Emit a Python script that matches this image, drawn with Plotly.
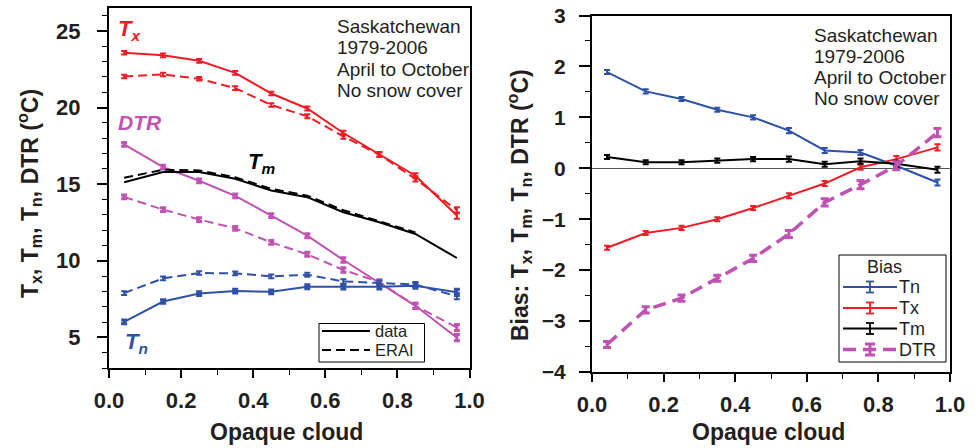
import plotly.graph_objects as go

# ---------------- data ----------------
x_cloud = [0.042, 0.15, 0.25, 0.35, 0.45, 0.55, 0.65, 0.75, 0.85, 0.965]

tx_data = [23.58, 23.41, 23.05, 22.27, 20.92, 19.94, 18.34, 16.95, 15.55, 12.95]
tx_erai = [22.03, 22.16, 21.88, 21.27, 20.17, 19.43, 18.12, 16.92, 15.35, 13.30]
tm_data = [15.13, 15.79, 15.79, 15.35, 14.59, 14.15, 13.17, 12.51, 11.75, 10.18]
tm_erai = [15.42, 15.94, 15.90, 15.45, 14.70, 14.25, 13.30, 12.60, 11.85, None]
tn_data = [6.01, 7.34, 7.86, 8.02, 7.97, 8.30, 8.30, 8.30, 8.37, 7.94]
tn_erai = [7.89, 8.85, 9.20, 9.18, 8.98, 9.09, 8.65, 8.56, 8.45, 7.68]
dtr_data = [17.60, 16.11, 15.22, 14.24, 12.95, 11.64, 10.05, 8.56, 7.06, 4.98]
dtr_erai = [14.17, 13.34, 12.69, 12.12, 11.20, 10.42, 9.40, 8.61, 7.06, 5.64]
err_left = [0.12, 0.12, 0.12, 0.12, 0.12, 0.13, 0.15, 0.15, 0.17, 0.2]

bias_tn = [1.89, 1.51, 1.36, 1.15, 1.00, 0.74, 0.35, 0.31, 0.05, -0.28]
bias_tx = [-1.56, -1.27, -1.17, -1.00, -0.78, -0.54, -0.30, 0.02, 0.18, 0.41]
bias_tm = [0.22, 0.12, 0.12, 0.15, 0.18, 0.18, 0.08, 0.14, 0.09, -0.03]
bias_dtr = [-3.46, -2.78, -2.55, -2.16, -1.77, -1.29, -0.67, -0.32, 0.05, 0.70]
err_bias = [0.04, 0.04, 0.04, 0.04, 0.04, 0.05, 0.05, 0.05, 0.06, 0.06]
err_bias_dtr = [0.06, 0.06, 0.06, 0.06, 0.06, 0.07, 0.07, 0.08, 0.08, 0.08]

left_ticks_x = [0.0, 0.2, 0.4, 0.6, 0.8, 1.0]
legend_left_labels = ["data", "ERAI"]
legend_right_labels = ["Tn", "Tx", "Tm", "DTR"]
note_lines = ["Saskatchewan", "1979-2006", "April to October", "No snow cover"]

RED = "#EE1C25"
BLUE = "#2F51A5"
MAG = "#BF52B2"
BLK = "#000000"
TXT = "#231F20"
FONT = "Liberation Sans, Arial, sans-serif"
DASH = "9px,5px"
DASH_DTR = "13px,7px"

W, H = 976, 448

fig = go.Figure()


def add_line(y, color, dash, err, xa, ya, width=2, ethick=2, ewidth=3):
    fig.add_trace(go.Scatter(
        x=x_cloud, y=y, mode="lines", xaxis=xa, yaxis=ya,
        line=dict(color=color, width=width, dash=dash),
        error_y=dict(type="data", array=err, visible=True, color=color, thickness=ethick, width=ewidth),
        showlegend=False, connectgaps=False, hoverinfo="skip",
    ))


# left panel
add_line(tx_data, RED, "solid", err_left, "x", "y")
add_line(tx_erai, RED, DASH, err_left, "x", "y")
add_line(dtr_data, MAG, "solid", err_left, "x", "y", ethick=3)
add_line(dtr_erai, MAG, DASH, err_left, "x", "y", ethick=3)
add_line(tm_data, BLK, "solid", [0.05] * 10, "x", "y", ethick=0, ewidth=0)
add_line(tm_erai, BLK, DASH, [0.05] * 10, "x", "y", ethick=0, ewidth=0)
add_line(tn_data, BLUE, "solid", err_left, "x", "y", ethick=3)
add_line(tn_erai, BLUE, DASH, err_left, "x", "y", ethick=2)

# right panel
add_line(bias_tn, BLUE, "solid", err_bias, "x2", "y2")
add_line(bias_tx, RED, "solid", err_bias, "x2", "y2")
add_line(bias_tm, BLK, "solid", err_bias, "x2", "y2")
add_line(bias_dtr, MAG, DASH_DTR, err_bias_dtr, "x2", "y2", width=3.5, ethick=3, ewidth=4)

xtickfont = dict(family=FONT, size=22, color=TXT, weight="bold")
ytickfont_l = dict(family=FONT, size=22, color=TXT, weight="bold")
ytickfont_r = dict(family=FONT, size=21, color=TXT, weight="bold")

common_x = dict(range=[0, 1], tickvals=left_ticks_x, tickformat=".1f", ticks="outside", ticklen=8,
                tickwidth=1.5, tickcolor=BLK, showline=True, linewidth=2, linecolor=BLK, mirror=True,
                showgrid=False, zeroline=False, tickfont=xtickfont, automargin=False,
                minor=dict(dtick=0.1, ticks="outside", ticklen=5, tickwidth=1.2, tickcolor=BLK, showgrid=False),
                ticklabelstandoff=4)


def px_x(p):
    return p / W


def px_y(p):
    return 1 - p / H


fig.update_layout(
    width=W, height=H,
    margin=dict(l=0, r=0, t=0, b=0),
    paper_bgcolor="white", plot_bgcolor="white",
    font=dict(family=FONT, color=BLK),
    showlegend=False,
    xaxis=dict(domain=[px_x(109), px_x(469.5)], anchor="y", **common_x),
    xaxis2=dict(domain=[px_x(592), px_x(950)], anchor="y2", **common_x),
    yaxis=dict(domain=[px_y(368), px_y(8)], anchor="x", range=[3, 26.5], tickvals=[5, 10, 15, 20, 25],
               ticks="outside", ticklen=10, tickwidth=1.5, tickcolor=BLK, showline=True, linewidth=2,
               linecolor=BLK, mirror=True, showgrid=False, zeroline=False, tickfont=ytickfont_l,
               automargin=False, ticklabelstandoff=12,
               minor=dict(dtick=1, ticks="outside", ticklen=5, tickwidth=1.2, tickcolor=BLK, showgrid=False)),
    yaxis2=dict(domain=[px_y(372), px_y(15.5)], anchor="x2", range=[-4, 3], dtick=1,
                ticks="outside", ticklen=11, tickwidth=1.5, tickcolor=BLK, showline=True, linewidth=2,
                linecolor=BLK, mirror=True, showgrid=False, zeroline=True, zerolinecolor="#555555",
                zerolinewidth=1, tickfont=ytickfont_r, automargin=False, ticklabelstandoff=9,
                minor=dict(dtick=0.5, ticks="outside", ticklen=5, tickwidth=1.2, tickcolor=BLK, showgrid=False)),
)

shapes = []
ann = []


def pline(x0, y0, x1, y1, color, width, dash="solid"):
    shapes.append(dict(type="line", xref="paper", yref="paper", x0=px_x(x0), y0=px_y(y0), x1=px_x(x1),
                       y1=px_y(y1), line=dict(color=color, width=width, dash=dash)))


def ptext(text, x, y, size, color=TXT, xanchor="left"):
    ann.append(dict(text=text, x=px_x(x), y=px_y(y), xref="paper", yref="paper", xanchor=xanchor,
                    yanchor="middle", showarrow=False, font=dict(family=FONT, size=size, color=color)))


# ---- left legend (manual) ----
shapes.append(dict(type="rect", xref="paper", yref="paper", x0=px_x(319), y0=px_y(323.5), x1=px_x(424.5),
                   y1=px_y(362), line=dict(color=BLK, width=1), fillcolor="white"))
left_styles = ["solid", DASH]
left_rows = [331, 350]
for lab, st, yy in zip(legend_left_labels, left_styles, left_rows):
    pline(322, yy, 370, yy, BLK, 2, st)
    ptext(lab, 373, yy, 16.5)

# ---- right legend (manual) ----
shapes.append(dict(type="rect", xref="paper", yref="paper", x0=px_x(839), y0=px_y(255), x1=px_x(946),
                   y1=px_y(362), line=dict(color=BLK, width=1), fillcolor="white"))
ptext("Bias", 865, 267, 18)
right_colors = [BLUE, RED, BLK, MAG]
right_styles = ["solid", "solid", "solid", DASH_DTR]
right_widths = [2, 2, 2, 3.5]
right_rows = [287, 308, 328.5, 349.5]
for lab, c, st, lw, yy in zip(legend_right_labels, right_colors, right_styles, right_widths, right_rows):
    pline(843, yy, 897, yy, c, lw, st)
    eh = 5.5
    ew = 4 if lw < 3 else 5
    et = 1.8 if lw < 3 else 3
    pline(870, yy - eh, 870, yy + eh, c, et)
    pline(870 - ew, yy - eh, 870 + ew, yy - eh, c, et)
    pline(870 - ew, yy + eh, 870 + ew, yy + eh, c, et)
    ptext(lab, 897, yy, 18)

# ---- notes ----
left_note_rows = [26, 47.5, 69, 90.5]
right_note_rows = [35, 56, 77.5, 98]
for txt, yl, yr in zip(note_lines, left_note_rows, right_note_rows):
    ptext(txt, 335, yl, 19)
    ptext(txt, 811.5, yr, 19)

ann += [
    dict(text="<b>T<sub>x</sub>, T<sub>m</sub>, T<sub>n</sub>, DTR (<sup>o</sup>C)</b>", textangle=-90,
         x=px_x(29), y=px_y(194), xref="paper", yref="paper", xanchor="center", yanchor="middle",
         showarrow=False, font=dict(family=FONT, size=23, color=TXT)),
    dict(text="<b>Bias: T<sub>x</sub>, T<sub>m</sub>, T<sub>n</sub>, DTR (<sup>o</sup>C)</b>", textangle=-90,
         x=px_x(519), y=px_y(205), xref="paper", yref="paper", xanchor="center", yanchor="middle",
         showarrow=False, font=dict(family=FONT, size=23, color=TXT)),
    dict(text="<b>Opaque cloud</b>", x=px_x(286), y=px_y(432), xref="paper", yref="paper",
         xanchor="center", yanchor="middle", showarrow=False, font=dict(family=FONT, size=23, color=TXT)),
    dict(text="<b>Opaque cloud</b>", x=px_x(768), y=px_y(432), xref="paper", yref="paper",
         xanchor="center", yanchor="middle", showarrow=False, font=dict(family=FONT, size=23, color=TXT)),
    # series labels
    dict(text="<b><i>T<sub>x</sub></i></b>", x=px_x(116), y=px_y(30), xref="paper", yref="paper",
         xanchor="left", yanchor="middle", showarrow=False, font=dict(family=FONT, size=22, color=RED)),
    dict(text="<b><i>DTR</i></b>", x=px_x(116), y=px_y(122), xref="paper", yref="paper",
         xanchor="left", yanchor="middle", showarrow=False, font=dict(family=FONT, size=21, color=MAG)),
    dict(text="<b><i>T<sub>m</sub></i></b>", x=px_x(246), y=px_y(163), xref="paper", yref="paper",
         xanchor="left", yanchor="middle", showarrow=False, font=dict(family=FONT, size=22, color=BLK)),
    dict(text="<b><i>T<sub>n</sub></i></b>", x=px_x(123), y=px_y(343), xref="paper", yref="paper",
         xanchor="left", yanchor="middle", showarrow=False, font=dict(family=FONT, size=22, color=BLUE)),
]
fig.update_layout(annotations=ann, shapes=shapes)

fig.write_html("out.html", config={"displayModeBar": False},
               post_script="document.body.style.margin='0';document.body.style.overflow='hidden';")
